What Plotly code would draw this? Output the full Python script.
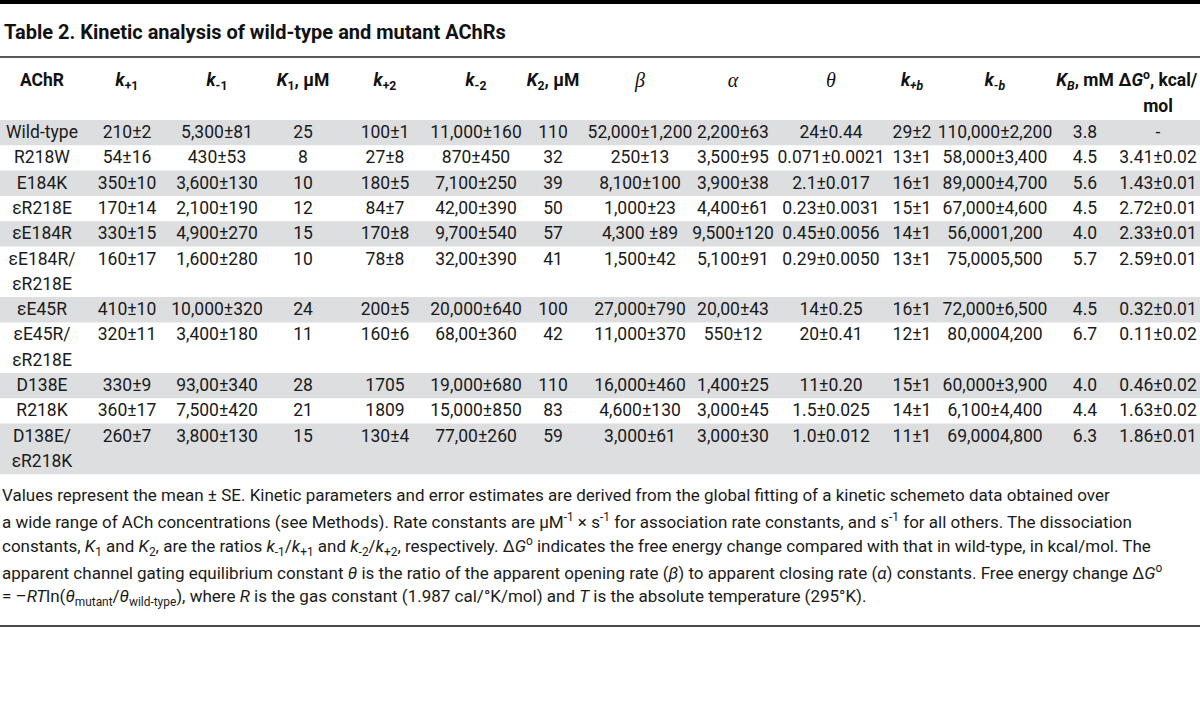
import plotly.graph_objects as go

# ---------------- data ----------------
title_text = "Table 2. Kinetic analysis of wild-type and mutant AChRs"

header_labels = [
    "<b>AChR</b>",
    "<b><i>k</i><sub>+1</sub></b>",
    "<b><i>k</i><sub>-1</sub></b>",
    "<b><i>K</i><sub>1</sub>, µM</b>",
    "<b><i>k</i><sub>+2</sub></b>",
    "<b><i>k</i><sub>-2</sub></b>",
    "<b><i>K</i><sub>2</sub>, µM</b>",
    "<i>β</i>",
    "<i>α</i>",
    "<i>θ</i>",
    "<b><i>k</i><sub><i>+b</i></sub></b>",
    "<b><i>k</i><sub><i>-b</i></sub></b>",
    "<b><i>K</i><sub><i>B</i></sub>, mM</b>",
    "<b>Δ<i>G</i><sup>o</sup>, kcal/</b><br><b>mol</b>",
]
serif_headers = [False, False, False, False, False, False, False,
                 True, True, True, False, False, False, False]

achr = ["Wild-type", "R218W", "E184K", "εR218E", "εE184R", "εE184R/<br>εR218E",
        "εE45R", "εE45R/<br>εR218E", "D138E", "R218K", "D138E/<br>εR218K"]
k_p1 = ["210±2", "54±16", "350±10", "170±14", "330±15", "160±17", "410±10",
        "320±11", "330±9", "360±17", "260±7"]
k_m1 = ["5,300±81", "430±53", "3,600±130", "2,100±190", "4,900±270", "1,600±280",
        "10,000±320", "3,400±180", "93,00±340", "7,500±420", "3,800±130"]
K_1 = ["25", "8", "10", "12", "15", "10", "24", "11", "28", "21", "15"]
k_p2 = ["100±1", "27±8", "180±5", "84±7", "170±8", "78±8", "200±5", "160±6",
        "1705", "1809", "130±4"]
k_m2 = ["11,000±160", "870±450", "7,100±250", "42,00±390", "9,700±540", "32,00±390",
        "20,000±640", "68,00±360", "19,000±680", "15,000±850", "77,00±260"]
K_2 = ["110", "32", "39", "50", "57", "41", "100", "42", "110", "83", "59"]
beta = ["52,000±1,200", "250±13", "8,100±100", "1,000±23", "4,300 ±89", "1,500±42",
        "27,000±790", "11,000±370", "16,000±460", "4,600±130", "3,000±61"]
alpha = ["2,200±63", "3,500±95", "3,900±38", "4,400±61", "9,500±120", "5,100±91",
         "20,00±43", "550±12", "1,400±25", "3,000±45", "3,000±30"]
theta = ["24±0.44", "0.071±0.0021", "2.1±0.017", "0.23±0.0031", "0.45±0.0056",
         "0.29±0.0050", "14±0.25", "20±0.41", "11±0.20", "1.5±0.025", "1.0±0.012"]
k_pb = ["29±2", "13±1", "16±1", "15±1", "14±1", "13±1", "16±1", "12±1", "15±1",
        "14±1", "11±1"]
k_mb = ["110,000±2,200", "58,000±3,400", "89,000±4,700", "67,000±4,600", "56,0001,200",
        "75,0005,500", "72,000±6,500", "80,0004,200", "60,000±3,900", "6,100±4,400",
        "69,0004,800"]
K_B = ["3.8", "4.5", "5.6", "4.5", "4.0", "5.7", "4.5", "6.7", "4.0", "4.4", "6.3"]
dG = ["-", "3.41±0.02", "1.43±0.01", "2.72±0.01", "2.33±0.01", "2.59±0.01",
      "0.32±0.01", "0.11±0.02", "0.46±0.02", "1.63±0.02", "1.86±0.01"]

footnote_lines = [
    "Values represent the mean ± SE. Kinetic parameters and error estimates are derived from the global fitting of a kinetic schemeto data obtained over",
    "a wide range of ACh concentrations (see Methods). Rate constants are µM<sup>-1</sup> × s<sup>-1</sup> for association rate constants, and s<sup>-1</sup> for all others. The dissociation",
    "constants, <i>K</i><sub>1</sub> and <i>K</i><sub>2</sub>, are the ratios <i>k</i><sub>-1</sub>/<i>k</i><sub>+1</sub> and <i>k</i><sub>-2</sub>/<i>k</i><sub>+2</sub>, respectively. Δ<i>G</i><sup>o</sup> indicates the free energy change compared with that in wild-type, in kcal/mol. The",
    "apparent channel gating equilibrium constant <i>θ</i> is the ratio of the apparent opening rate (<i>β</i>) to apparent closing rate (<i>α</i>) constants. Free energy change Δ<i>G</i><sup>o</sup>",
    "= –<i>RT</i>ln(<i>θ</i><sub>mutant</sub>/<i>θ</i><sub>wild-type</sub>), where <i>R</i> is the gas constant (1.987 cal/°K/mol) and <i>T</i> is the absolute temperature (295°K).",
]

columns = [achr, k_p1, k_m1, K_1, k_p2, k_m2, K_2, beta, alpha, theta, k_pb, k_mb, K_B, dG]

# ---------------- layout constants ----------------
W, H = 1200, 714
FONT = "Roboto"
SERIF = "Liberation Serif"
col_x = [42, 127, 217, 303, 385, 476, 553, 640, 733, 831, 912, 995, 1085, 1158]
HEADER_Y = 82
ROW_TOP = 120
UNIT = 25.3
BAND = "#dddee0"
TXT = "#1a1a1a"
DATA_SIZE = 17.5

fig = go.Figure()

# row geometry from number of lines in each row
n_lines = [max(len(col[i].split("<br>")) for col in columns) for i in range(len(achr))]
row_tops = []
y = ROW_TOP
for n in n_lines:
    row_tops.append(y)
    y += n * UNIT

shapes = []
for i, (top, n) in enumerate(zip(row_tops, n_lines)):
    if i % 2 == 0:
        shapes.append(dict(type="rect", xref="x", yref="y", x0=0, x1=W, y0=top,
                           y1=top + n * UNIT, fillcolor=BAND, line=dict(width=0),
                           layer="below"))

# rules
shapes.append(dict(type="rect", xref="x", yref="y", x0=0, x1=W, y0=0, y1=4,
                   fillcolor="#000000", line=dict(width=0)))
shapes.append(dict(type="line", xref="x", yref="y", x0=0, x1=W, y0=57, y1=57,
                   line=dict(color="#222222", width=1.5)))
shapes.append(dict(type="line", xref="x", yref="y", x0=0, x1=W, y0=626, y1=626,
                   line=dict(color="#111111", width=1.5)))

# header
hx, hy, ht, hf, hs = [], [], [], [], []
for j, lab in enumerate(header_labels):
    for k, line in enumerate(lab.split("<br>")):
        hx.append(col_x[j])
        hy.append(HEADER_Y + k * UNIT)
        ht.append(line)
        hf.append(SERIF if serif_headers[j] else FONT)
        hs.append(20 if serif_headers[j] else DATA_SIZE)
fig.add_trace(go.Scatter(x=hx, y=hy, text=ht, mode="text", textposition="middle center",
                         textfont=dict(family=hf, size=hs, color="#111111"),
                         hoverinfo="skip", showlegend=False))

# body cells
for j, col in enumerate(columns):
    xs, ys, ts = [], [], []
    for i, cell in enumerate(col):
        for k, line in enumerate(cell.split("<br>")):
            xs.append(col_x[j])
            ys.append(row_tops[i] + (k + 0.5) * UNIT + 1)
            ts.append(line)
    fig.add_trace(go.Scatter(x=xs, y=ys, text=ts, mode="text", textposition="middle center",
                             textfont=dict(family=FONT, size=DATA_SIZE, color=TXT),
                             hoverinfo="skip", showlegend=False))

annotations = [dict(x=2, y=32, xref="x", yref="y", xanchor="left", yanchor="middle",
                    text=f"<b>{title_text}</b>", showarrow=False,
                    font=dict(family=FONT, size=20, color="#111111"))]
FOOT_Y0 = 495
FOOT_DY = 25.5
for k, line in enumerate(footnote_lines):
    annotations.append(dict(x=0, y=FOOT_Y0 + k * FOOT_DY, xref="x", yref="y",
                            xanchor="left", yanchor="middle", text=line,
                            showarrow=False, align="left",
                            font=dict(family=FONT, size=17, color=TXT)))

fig.update_layout(
    width=W, height=H, margin=dict(l=0, r=0, t=0, b=0),
    paper_bgcolor="white", plot_bgcolor="white",
    xaxis=dict(range=[0, W], visible=False, fixedrange=True),
    yaxis=dict(range=[H, 0], visible=False, fixedrange=True),
    shapes=shapes, annotations=annotations, showlegend=False,
)

fig.write_html("out.html", config={"displayModeBar": False},
               post_script="document.body.style.margin='0';")
